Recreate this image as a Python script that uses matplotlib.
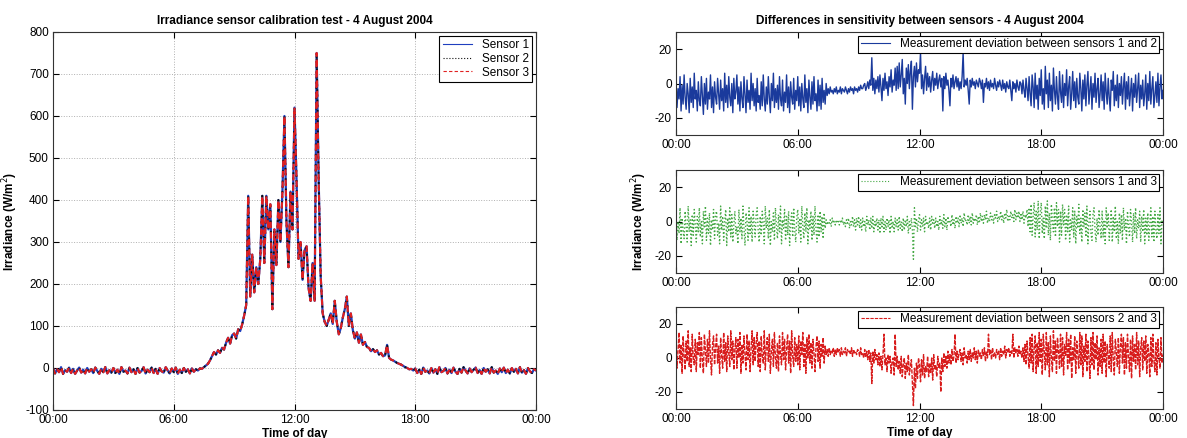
import numpy as np
import matplotlib
matplotlib.use("Agg")
import matplotlib.pyplot as plt

plt.rcParams['font.family'] = ['Liberation Sans', 'DejaVu Sans']
plt.rcParams['axes.unicode_minus'] = False

# ---- data ----
tick_pos = [0, 6, 12, 18, 24]
tick_labels = ['00:00', '06:00', '12:00', '18:00', '00:00']

# irradiance, W/m2, 6-minute steps 00:00 .. 24:00
irradiance = [
    0, -13, -3, -10, 2, -14, -5, -9, 1, -12,
    -2, -14, -6, 1, -11, -4, -13, 0, -9, -3,
    -12, 1, -7, -14, -2, -10, 2, -13, -5, -11,
    0, -12, -4, -14, 2, -9, -6, -13, 1, -10,
    -3, -14, 0, -11, -7, 2, -13, -4, -10, 1,
    -12, -2, -14, 0, -8, -11, 2, -6, -13, -1,
    -10, 1, -14, -4, -12, 0, -9, -3, -13, -1,
    -9, -3, -6, -1, -2, 2, 6, 10, 18, 28,
    38, 32, 42, 36, 48, 44, 60, 72, 58, 78,
    82, 70, 92, 88, 104, 125, 150, 410, 170, 270,
    180, 240, 200, 260, 410, 250, 410, 330, 390, 140,
    330, 245, 400, 300, 420, 600, 350, 240, 420, 330,
    620, 450, 260, 300, 210, 280, 290, 190, 160, 250,
    160, 750, 450, 220, 130, 110, 100, 115, 130, 105,
    160, 110, 80, 95, 120, 140, 170, 100, 130, 90,
    70, 85, 60, 80, 55, 62, 50, 48, 40, 45,
    38, 42, 32, 36, 28, 30, 55, 24, 20, 18,
    15, 12, 10, 8, 5, 2, 0, -3, -2, -6,
    -1, -12, -4, -14, 1, -9, -6, -13, 0, -11,
    -3, -14, 2, -10, -7, 0, -13, -4, -12, 1,
    -9, -14, -2, -11, 2, -6, -13, -1, -10, -4,
    1, -12, -5, -14, 0, -9, -3, -13, 2, -11,
    -6, -14, -1, -10, 1, -12, -4, -13, 0, -9,
    -2, -13, 2, -11, -5, -14, 0, -8, -12, -3,
    -6,
]

# sensor deviations, W/m2, 3-minute steps 00:00 .. 24:00
dev_12 = [
    2, -14, -3, -9, 4, -16, -1, -12, 5, -8, -15, 0, -6, -17, 3, -11, -2, -14, 6, -9,
    -4, -16, 1, -10, -13, 4, -7, -18, 0, -12, 3, -15, -5, -9, 5, -14, -2, -17, 1, -8,
    -12, 3, -6, -15, 2, -10, -3, -16, 6, -11, -1, -14, 4, -8, -13, 0, -17, 3, -9, -5,
    5, -12, -2, -16, 1, -9, -14, 4, -6, -17, 2, -11, -4, -15, 6, -10, 0, -13, -3, -16,
    3, -11, -7, -15, 1, -13, 5, -9, -16, -2, -12, 4, -8, -17, 0, -10, 6, -14, -3, -11,
    -1, -15, 4, -9, -13, 2, -16, -5, -11, 5, -14, -2, -17, 1, -8, -12, 3, -15, -4, -10,
    4, -13, -2, -16, 0, -9, -14, 5, -11, -3, -17, 2, -8, -15, 1, -12, 4, -10, -6, -16,
    2, -13, -1, -15, 3, -11, -4, -12, 0, -7, -3, -6, -2, -5, -4, -6, -3, -5, -2, -6,
    -4, -5, -2, -6, -3, -4, -5, -2, -4, -6, -3, -5, -2, -4, -3, -6, -2, -4, -3, -5,
    -2, -4, -1, -3, -3, -1, 0, -4, -2, 1, -3, 2, -1, 15, -4, 3, -6, 2, -3, 4,
    -5, 5, -2, -10, 3, -4, 6, -3, 1, -7, 4, -2, 8, -5, 2, -1, 9, -4, 10, -3,
    12, -2, 5, 14, -6, 3, -12, 9, 0, 11, -3, 7, 13, -15, 4, 10, -2, 12, 1, 8,
    6, 18, -3, 5, -6, 3, 10, -4, 6, -2, 4, -5, 2, 7, -4, 3, -1, 6, -3, 2,
    5, -2, 3, -16, 4, -3, 6, -1, 2, -4, -13, 3, -2, 5, -3, 1, 4, -2, 3, -4,
    1, -3, 4, 18, -2, 2, -1, 3, -4, -12, 2, -2, 3, -1, 1, -3, 2, 0, -2, 3,
    1, -3, 2, -11, 0, -2, 3, -3, 1, -4, 2, -2, 0, -3, 3, -1, -4, 1, -2, 2,
    -1, -4, 2, -3, 0, -5, 1, -2, -3, 2, -4, -10, 1, -3, 0, -5, 2, -2, -4, 1,
    0, -6, 2, -4, -8, 3, -3, -10, 4, -6, -13, 5, -2, -14, 6, -9, -1, -15, 3, -7,
    8, -12, -3, -15, 10, -6, 2, -14, 6, -10, -1, -16, 9, -4, -12, 4, -8, -15, 7, -5,
    -11, 5, -14, 0, -7, 8, -13, -2, 4, -15, -6, 7, -10, 1, -14, 3, -8, -12, 6, -3,
    -16, 2, -9, 5, -13, -1, 7, -12, -4, 4, -15, 0, -8, 6, -11, -3, 3, -14, -6, 5,
    -10, 1, -15, 6, -5, -12, 3, -8, -16, 2, -4, 7, -13, -1, -10, 5, -14, 0, -7, 4,
    -12, -2, 6, -15, 1, -9, 4, -13, -5, 3, -16, 0, -8, 5, -11, -3, 6, -14, -1, -9,
    2, -13, -6, 5, -15, 0, -10, 7, -12, -3, 4, -14, -7, 1, -11, 6, -13, -2, 5, -9,
    -4,
]

dev_13 = [
    5, -11, 0, -7, 8, -13, 2, -5, -10, 6, -3, -12, 9, -6, 1, -14, 4, -8, 7, -2,
    -12, 3, -6, 8, -9, 0, -13, 6, -4, 9, -11, 2, -7, 5, -14, 1, -5, 7, -10, 4,
    6, -8, -1, -13, 9, -5, 3, -11, 0, 7, -14, 2, -6, 8, -9, 4, -12, -2, 6, -7,
    -3, -13, 7, -6, 2, -10, 9, -4, -14, 5, 0, -11, 8, -7, 3, -12, 6, -1, -9, 4,
    8, -5, -12, 3, -8, 6, -1, -13, 9, -4, 2, -10, 7, -14, 0, -6, 5, -11, 8, -3,
    -10, 4, -6, 9, -13, 1, -4, 7, -11, 3, -8, 6, -14, 0, 5, -9, 8, -5, -12, 2,
    7, -7, 2, -12, 9, -3, -10, 5, -6, 8, -13, 1, -4, 6, -11, 3, -8, 9, -5, -12,
    4, -9, 6, -6, 3, -10, 5, -4, 1, -2, 0, -1, 1, -3, 2, -1, 0, -2, 1, -1,
    0, -2, 1, -1, 2, -2, 0, -3, 1, -1, 2, -4, 0, -2, 3, -3, 1, -5, 2, -2,
    3, -4, 1, -5, 2, -3, 0, -6, 3, -2, 1, -5, 2, -4, 3, -6, 0, -3, 2, -5,
    1, -7, 2, -4, 3, -6, 0, -5, 2, -3, 1, -7, 3, -4, 0, -6, 2, -3, 1, -5,
    3, -4, 0, -6, 2, -5, 1, -3, 3, -7, 0, -4, 2, -5, -22, 8, -3, 2, -6, 1,
    4, -5, 1, -3, 2, -6, 3, -2, 0, -4, 2, -5, 3, -1, 1, -4, 2, -3, 0, -5,
    3, -2, 1, -4, 4, -3, 2, -5, 3, -1, 0, -3, 4, -2, 1, -4, 3, -1, 2, -3,
    4, -1, 2, -3, 5, 0, 1, -2, 4, -1, 3, -2, 5, -1, 2, 0, 4, -2, 3, -1,
    5, 0, 3, -1, 4, 1, 6, -1, 2, 0, 5, 1, 3, -1, 4, 2, 6, 0, 3, 1,
    6, 1, 4, -1, 5, 2, 7, 0, 3, 1, 6, 2, 4, 0, 7, 1, 5, 2, 6, 0,
    5, 1, 6, -1, 4, 2, 7, -3, 8, -6, 10, -8, 3, 11, -9, 6, -5, 12, -10, 4,
    11, -7, 2, -10, 9, -4, 12, -8, 5, -11, 10, 0, -6, 8, -9, 11, -3, 7, -12, 6,
    -8, 10, -2, 7, -11, 4, -6, 9, -12, 1, -5, 8, -9, 6, -13, 3, -4, 10, -7, 2,
    -12, 7, -3, 5, -9, 9, -13, 0, 6, -7, -11, 4, 8, -5, -12, 2, -8, 7, -3, -10,
    6, -9, 1, -13, 8, -4, 5, -11, -2, 7, -12, 3, -6, 9, -10, 0, -13, 5, -7, 4,
    -11, 8, -5, 2, -13, 6, -3, -9, 7, 0, -12, 5, -7, 8, -10, 1, -4, 6, -12, 3,
    -6, 7, -13, 2, -8, 5, -11, -1, 8, -9, 3, -12, 6, -5, -10, 4, -7, 8, -13, 1,
    0,
]

dev_23 = [
    12, -6, 4, 15, -3, 8, -9, 13, 1, -7, 10, -2, 16, -5, 6, -8, 14, 0, -4, 11,
    -8, 9, 2, 15, -6, 12, -1, -9, 14, 4, -5, 11, -3, 16, 0, -10, 8, 13, -4, 6,
    14, -3, 7, -9, 12, 1, -6, 15, -2, 9, -8, 13, 3, -5, 16, -1, 10, -7, 5, 12,
    -6, 11, 0, 15, -9, 8, -3, 13, 2, -7, 14, -1, 10, -8, 6, 16, -4, 12, -2, 9,
    15, -5, 10, -8, 13, 1, -3, 16, -7, 7, 12, -2, 14, -9, 4, 11, -5, 15, 0, -6,
    9, -8, 13, 2, -4, 15, -1, 11, -7, 6, 14, -3, 10, -9, 16, 1, -5, 12, -2, 8,
    -4, 13, -7, 10, 2, 15, -5, 8, -9, 12, 0, 14, -3, 9, -6, 11, 3, -8, 7, 13,
    -2, 10, -6, 8, 1, 12, -3, 7, 2, 5, 1, 6, 2, 4, 3, 6, 1, 5, 2, 6,
    3, 5, 1, 6, 2, 4, 3, 6, 1, 5, 3, 4, 2, 6, 1, 5, 3, 4, 2, 5,
    4, 1, 6, 2, 3, 0, 5, 1, 4, -1, 5, -2, 3, -15, 4, -3, 5, -1, 2, -4,
    3, -5, 1, -7, 2, 14, -4, 0, -8, 2, -3, 1, -9, -2, 0, -10, 14, -5, 1, -7,
    -2, -9, 1, -11, -4, 0, -12, -3, -8, 2, -10, -5, -1, -14, -28, -6, -18, -3, -12, 0,
    -4, -14, -1, -10, 2, -12, -5, -8, 1, -11, -3, -9, 0, -13, 2, -7, -4, -11, 1, -6,
    -3, -20, 0, -8, 3, -5, 1, -6, 4, -3, 2, -4, 5, -2, 1, 14, -3, 4, -1, 3,
    5, -2, 3, -4, 6, 0, 2, -3, 4, -1, 5, -2, 3, 0, 6, -1, 4, -3, 5, 1,
    3, -1, 5, 1, 6, -2, 4, 0, 14, 2, 5, -1, 6, 1, 3, 0, 5, 2, 4, -1,
    6, 1, 4, 2, 7, 0, 5, 3, 6, 1, 4, 2, 14, 0, 6, 3, 5, 1, 7, 2,
    4, 0, 6, -2, 8, -4, 10, 1, -6, 12, -3, 14, -8, 6, 13, -9, 9, -5, 15, -2,
    11, -10, 14, 3, -7, 15, -4, 9, -11, 13, 0, -8, 16, -2, 10, -9, 12, 4, -6, 14,
    -5, 12, -10, 8, 1, 15, -7, 11, -3, 14, -12, 6, -1, 13, -9, 10, 2, -6, 15, -4,
    13, -11, 7, -2, 14, -8, 10, 0, -12, 12, -4, 15, -7, 9, -1, 13, -10, 6, -5, 11,
    -9, 14, -3, 10, -11, 8, 2, -6, 13, -8, 15, -1, -10, 11, 4, -5, 12, -9, 7, 14,
    -3, 12, -10, 9, -6, 14, 1, -8, 11, -12, 13, -2, 8, -7, 15, -4, 10, -11, 6, 12,
    -7, 10, -2, 13, -9, 8, 3, -11, 12, -5, 14, -1, -8, 9, -10, 11, 0, -6, 12, -3,
    2,
]

t_irr = np.linspace(0, 24, len(irradiance))
t_dev = np.linspace(0, 24, len(dev_12))

FS = 8.5
W, H = 1187, 438
fig = plt.figure(figsize=(W / 100, H / 100), dpi=100)


def style_axes(ax):
    ax.set_xlim(0, 24)
    ax.set_xticks(tick_pos)
    ax.set_xticklabels(tick_labels)
    ax.tick_params(direction='in', top=True, right=True, labelsize=FS,
                   length=4, width=0.8, pad=3)
    for s in ax.spines.values():
        s.set_linewidth(0.8)
        s.set_color('#333333')


# ---- left: irradiance ----
axL = fig.add_axes([53 / W, 1 - 410 / H, 483 / W, 378 / H])
axL.plot(t_irr, irradiance, color='#1f3fbf', lw=1.6, ls='-', label='Sensor 1')
axL.plot(t_irr, irradiance, color='#111111', lw=1.4, ls=':', label='Sensor 2')
axL.plot(t_irr, irradiance, color='#e02020', lw=1.5, ls='--', dashes=(3, 2), label='Sensor 3')
style_axes(axL)
axL.set_ylim(-100, 800)
axL.set_yticks(range(-100, 801, 100))
axL.grid(True, ls=':', color='#b0b0b0', lw=0.7)
axL.set_title('Irradiance sensor calibration test - 4 August 2004',
              fontsize=FS, fontweight='bold', pad=6)
axL.set_xlabel('Time of day', fontsize=FS, fontweight='bold', labelpad=1)
axL.set_ylabel('Irradiance (W/m$^2$)', fontsize=FS, fontweight='bold', labelpad=4)
leg = axL.legend(loc='upper right', fontsize=FS, fancybox=False, framealpha=1,
                 edgecolor='black', borderaxespad=0.3, handlelength=2.5,
                 borderpad=0.3, labelspacing=0.15)
leg.get_frame().set_linewidth(0.8)
for ln in leg.get_lines():
    ln.set_linewidth(0.8)

# ---- right: deviations ----
rows = [
    (32, 135, dev_12, dict(color='#1a3a9c', lw=1.0, ls='-'),
     'Measurement deviation between sensors 1 and 2'),
    (170, 273, dev_13, dict(color='#44a844', lw=1.0, ls=':'),
     'Measurement deviation between sensors 1 and 3'),
    (307, 409, dev_23, dict(color='#d81c1c', lw=1.0, ls='--', dashes=(3, 1)),
     'Measurement deviation between sensors 2 and 3'),
]
axes_r = []
for top, bot, vals, kw, lab in rows:
    ax = fig.add_axes([676 / W, 1 - bot / H, 487 / W, (bot - top) / H])
    ax.plot(t_dev, vals, label=lab, **kw)
    style_axes(ax)
    ax.set_ylim(-30, 30)
    ax.set_yticks([-20, 0, 20])
    lg = ax.legend(loc='upper right', fontsize=FS, fancybox=False, framealpha=1,
                   edgecolor='black', borderaxespad=0.3, handlelength=2.5,
                   borderpad=0.25)
    lg.get_frame().set_linewidth(0.8)
    for ln in lg.get_lines():
        ln.set_linewidth(0.8)
    axes_r.append(ax)

axes_r[0].set_title('Differences in sensitivity between sensors - 4 August 2004',
                    fontsize=FS, fontweight='bold', pad=6)
axes_r[1].set_ylabel('Irradiance (W/m$^2$)', fontsize=FS, fontweight='bold', labelpad=4)
axes_r[2].set_xlabel('Time of day', fontsize=FS, fontweight='bold', labelpad=1)

fig.savefig('out.png', dpi=100)
